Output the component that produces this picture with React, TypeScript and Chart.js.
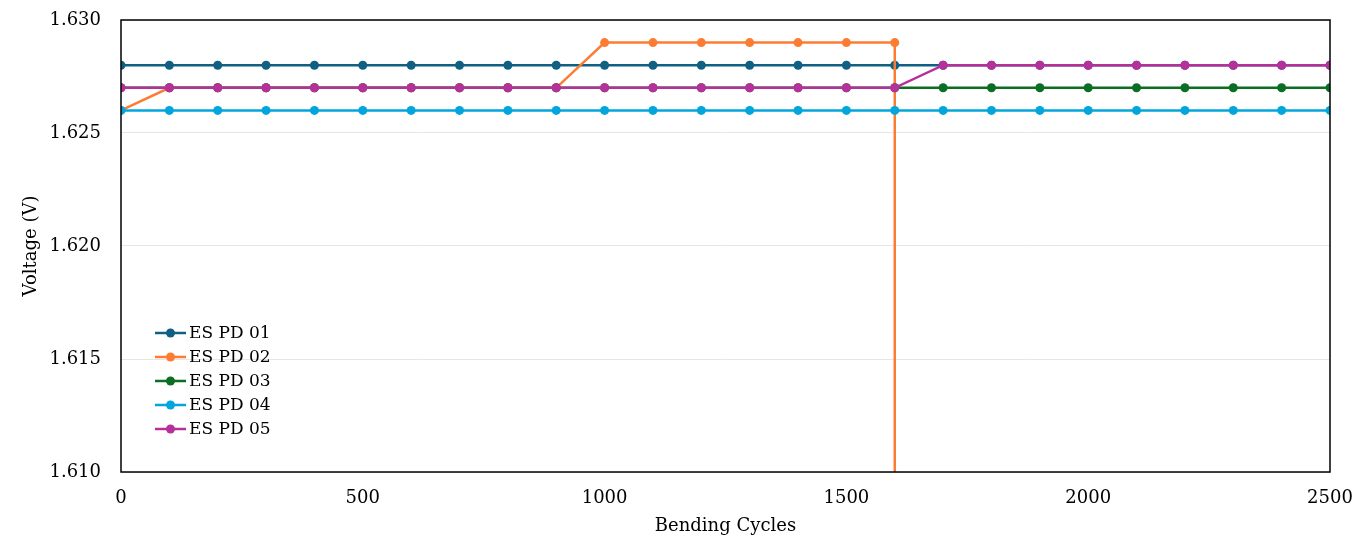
import { useEffect, useRef } from 'react';
import Chart, { ChartConfiguration, Plugin } from 'chart.js/auto';

const cycles = [
  0, 100, 200, 300, 400, 500, 600, 700, 800, 900, 1000, 1100, 1200,
  1300, 1400, 1500, 1600, 1700, 1800, 1900, 2000, 2100, 2200, 2300, 2400, 2500,
];

const pd01 = [
  1.628, 1.628, 1.628, 1.628, 1.628, 1.628, 1.628, 1.628, 1.628, 1.628, 1.628, 1.628, 1.628,
  1.628, 1.628, 1.628, 1.628, 1.628, 1.628, 1.628, 1.628, 1.628, 1.628, 1.628, 1.628, 1.628,
];
// PD 02 fails after 1600 cycles
const pd02 = [
  1.626, 1.627, 1.627, 1.627, 1.627, 1.627, 1.627, 1.627, 1.627, 1.627, 1.629, 1.629, 1.629,
  1.629, 1.629, 1.629, 1.629,
];
const pd02FailCycle = 1600;
const pd02FailValue = 0;
const pd03 = [
  1.627, 1.627, 1.627, 1.627, 1.627, 1.627, 1.627, 1.627, 1.627, 1.627, 1.627, 1.627, 1.627,
  1.627, 1.627, 1.627, 1.627, 1.627, 1.627, 1.627, 1.627, 1.627, 1.627, 1.627, 1.627, 1.627,
];
const pd04 = [
  1.626, 1.626, 1.626, 1.626, 1.626, 1.626, 1.626, 1.626, 1.626, 1.626, 1.626, 1.626, 1.626,
  1.626, 1.626, 1.626, 1.626, 1.626, 1.626, 1.626, 1.626, 1.626, 1.626, 1.626, 1.626, 1.626,
];
const pd05 = [
  1.627, 1.627, 1.627, 1.627, 1.627, 1.627, 1.627, 1.627, 1.627, 1.627, 1.627, 1.627, 1.627,
  1.627, 1.627, 1.627, 1.627, 1.628, 1.628, 1.628, 1.628, 1.628, 1.628, 1.628, 1.628, 1.628,
];

const labels = ['ES PD 01', 'ES PD 02', 'ES PD 03', 'ES PD 04', 'ES PD 05'];
const colors = ['#0f6082', '#fd7c33', '#0b6f23', '#02a6dd', '#b6309c'];

const FONT = 'DejaVu Serif';

const toPoints = (values: number[]) => values.map((y, i) => ({ x: cycles[i], y }));

// box round the plot area
const framePlugin: Plugin = {
  id: 'frame',
  afterDraw(chart) {
    const { ctx, chartArea: a } = chart;
    ctx.save();
    ctx.strokeStyle = '#000';
    ctx.lineWidth = 1.5;
    ctx.strokeRect(a.left, a.top, a.right - a.left, a.bottom - a.top);
    ctx.restore();
  },
};

// legend inside the plot, bottom-left
const legendPlugin: Plugin = {
  id: 'innerLegend',
  afterDraw(chart) {
    const { ctx, chartArea: a } = chart;
    ctx.save();
    ctx.font = `17px "${FONT}"`;
    ctx.textBaseline = 'middle';
    chart.data.datasets.forEach((ds, i) => {
      const y = a.top + 313 + i * 24;
      const x = a.left + 34;
      const c = ds.borderColor as string;
      ctx.strokeStyle = c;
      ctx.lineWidth = 2.5;
      ctx.beginPath();
      ctx.moveTo(x, y);
      ctx.lineTo(x + 31, y);
      ctx.stroke();
      ctx.fillStyle = c;
      ctx.beginPath();
      ctx.arc(x + 15.5, y, 4.5, 0, Math.PI * 2);
      ctx.fill();
      ctx.fillStyle = '#000';
      ctx.fillText(ds.label ?? '', x + 34, y + 1);
    });
    ctx.restore();
  },
};

const App = () => {
  const canvasRef = useRef<HTMLCanvasElement>(null);
  const chartRef = useRef<Chart | null>(null);

  useEffect(() => {
    document.body.style.margin = '0';
    const canvas = canvasRef.current;
    const context = canvas?.getContext('2d');
    if (!canvas || !context) return;

    chartRef.current?.destroy();
    chartRef.current = new Chart(context, getChartConfig());

    return () => {
      chartRef.current?.destroy();
    };
  }, []);

  const getChartConfig = (): ChartConfiguration<'line'> => {
    const series = [
      toPoints(pd01),
      [...toPoints(pd02), { x: pd02FailCycle, y: pd02FailValue }],
      toPoints(pd03),
      toPoints(pd04),
      toPoints(pd05),
    ];
    return {
      type: 'line',
      data: {
        datasets: series.map((data, i) => ({
          label: labels[i],
          data,
          borderColor: colors[i],
          backgroundColor: colors[i],
          borderWidth: 2.5,
          pointRadius: data.map((p, j) => (i === 1 && j === data.length - 1 ? 0 : 4.5)),
          pointHoverRadius: 4.5,
          pointBorderWidth: 0,
          tension: 0,
          // excel draws later series on top
          order: labels.length - i,
        })),
      },
      options: {
        animation: false,
        responsive: false,
        layout: { padding: { top: 20, right: 31, left: 0, bottom: 0 } },
        plugins: {
          legend: { display: false },
          tooltip: { enabled: false },
        },
        scales: {
          x: {
            type: 'linear',
            min: 0,
            max: 2500,
            afterFit: (scale) => {
              scale.height = 75;
              scale.paddingRight = 0;
              scale.paddingLeft = 0;
            },
            ticks: {
              stepSize: 500,
              color: '#000',
              padding: 8,
              font: { family: FONT, size: 18 },
              callback: (v) => String(v),
            },
            grid: { display: false },
            border: { display: false },
            title: {
              display: true,
              text: 'Bending Cycles',
              color: '#000',
              font: { family: FONT, size: 18 },
              padding: { top: 0, bottom: 10 },
            },
          },
          y: {
            type: 'linear',
            min: 1.61,
            max: 1.63,
            afterFit: (scale) => {
              scale.width = 121;
              scale.paddingTop = 0;
              scale.paddingBottom = 0;
            },
            ticks: {
              stepSize: 0.005,
              color: '#000',
              padding: 20,
              font: { family: FONT, size: 18 },
              callback: (v) => Number(v).toFixed(3),
            },
            grid: { color: '#e6e6e6', drawTicks: false },
            border: { display: false },
            title: {
              display: true,
              text: 'Voltage (V)',
              color: '#000',
              font: { family: FONT, size: 18 },
              padding: { top: 21, bottom: 0 },
            },
          },
        },
      },
      plugins: [framePlugin, legendPlugin],
    };
  };

  return (
    <div style={{ width: 1361, height: 547 }}>
      <canvas ref={canvasRef} width={1361} height={547} />
    </div>
  );
};

export default App;
